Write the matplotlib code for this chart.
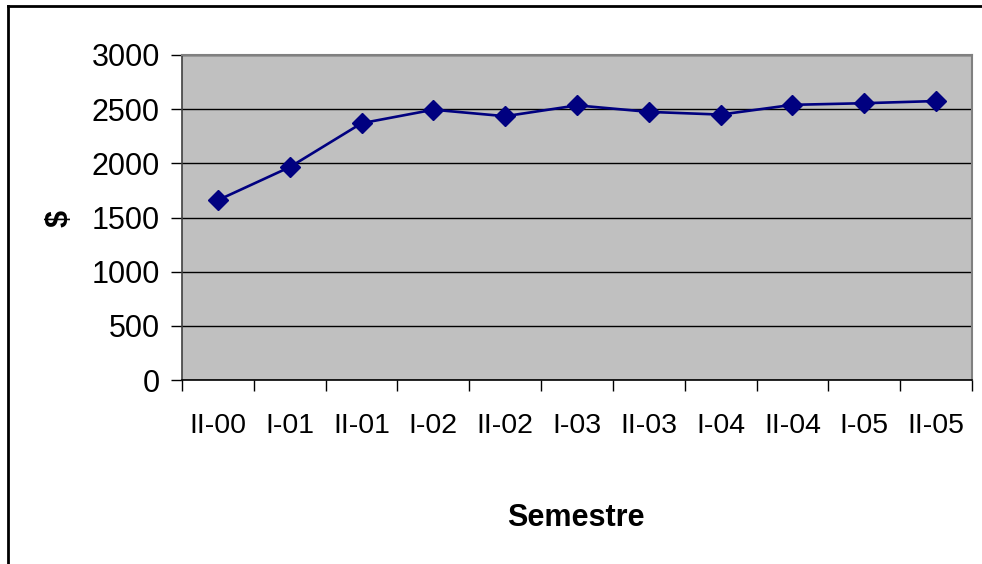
import matplotlib
matplotlib.use("Agg")
import matplotlib.pyplot as plt
from matplotlib.lines import Line2D
import numpy as np

# Semester labels and average amounts
semesters = ["II-00", "I-01", "II-01", "I-02", "II-02", "I-03",
             "II-03", "I-04", "II-04", "I-05", "II-05"]
amounts = [1660, 1965, 2370, 2495, 2435, 2535, 2475, 2450, 2540, 2555, 2575]
y_ticks = [0, 500, 1000, 1500, 2000, 2500, 3000]

plt.rcParams['font.family'] = ['Liberation Sans', 'DejaVu Sans']

W, H = 982, 564
fig = plt.figure(figsize=(W / 100, H / 100), dpi=100)
fig.patch.set_facecolor("white")

# outer chart frame (top and left edges)
fig.add_artist(Line2D([8 / W, 1.0], [1 - 6 / H, 1 - 6 / H], transform=fig.transFigure,
                      color="black", lw=2.0))
fig.add_artist(Line2D([8 / W, 8 / W], [0.0, 1 - 6 / H], transform=fig.transFigure,
                      color="black", lw=2.0))

left, right, top, bottom = 182, 972, 55, 380
ax = fig.add_axes([left / W, 1 - bottom / H, (right - left) / W, (bottom - top) / H])
ax.set_facecolor("#C0C0C0")

n = len(semesters)
x = np.arange(n) + 0.5
ax.plot(x, amounts, color="#000080", lw=1.9, marker="D", ms=10,
        markerfacecolor="#000080", markeredgecolor="#000080", zorder=3)

ax.set_xlim(0, n)
ax.set_ylim(0, 3000)
ax.set_yticks(y_ticks)
ax.set_yticklabels([str(v) for v in y_ticks], fontsize=22)
ax.yaxis.grid(True, color="black", lw=1.0)
ax.set_axisbelow(True)

# category boundary ticks, labels centred on each category
ax.set_xticks(np.arange(n + 1))
ax.set_xticklabels([])
ax.set_xticks(x, minor=True)
ax.set_xticklabels(semesters, minor=True, fontsize=20.5)
ax.tick_params(axis="x", which="minor", length=0, pad=24)
ax.tick_params(axis="x", which="major", length=8, width=1, color="black", direction="out")
ax.tick_params(axis="y", length=8, width=1, color="black", direction="out", pad=8)

for side in ("top", "right"):
    ax.spines[side].set_color("#808080")
    ax.spines[side].set_linewidth(1.5)
ax.spines["left"].set_color("#404040")
ax.spines["left"].set_linewidth(1.2)
ax.spines["bottom"].set_color("black")
ax.spines["bottom"].set_linewidth(1.2)

fig.text(576 / W, 1 - 518 / H, "Semestre", fontsize=22, fontweight="bold",
         ha="center", va="center")
fig.text(60 / W, 1 - 218 / H, "$", fontsize=22, fontweight="bold",
         ha="center", va="center", rotation=90)

fig.savefig("out.png", dpi=100)
